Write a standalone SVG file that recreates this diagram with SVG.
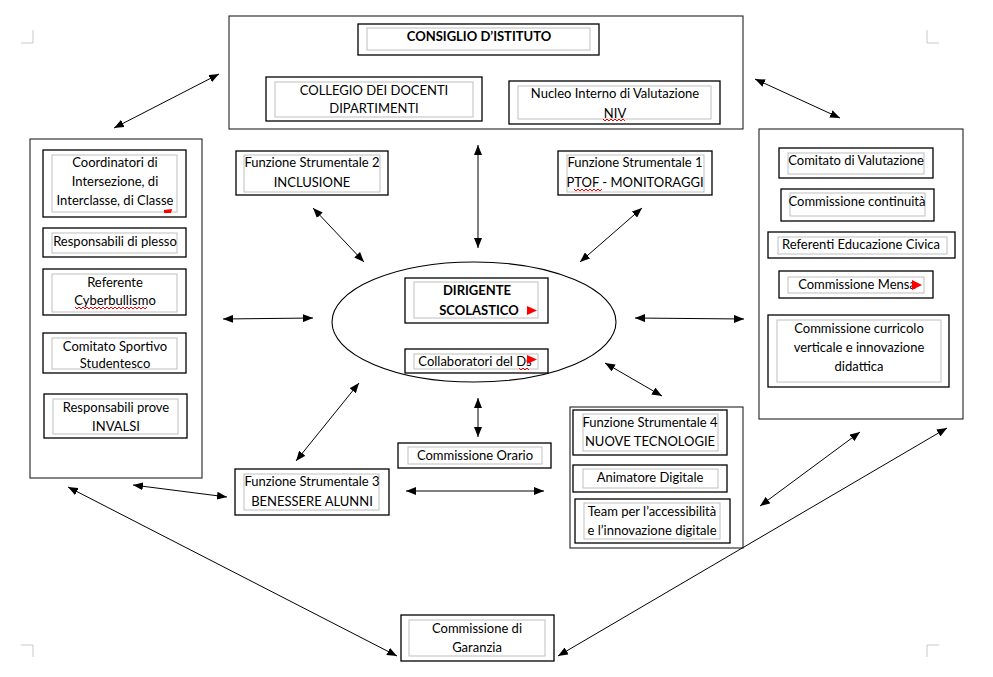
<svg xmlns="http://www.w3.org/2000/svg" width="993" height="677" viewBox="0 0 993 677">
<defs>
<marker id="ah" viewBox="0 0 10 8" refX="10" refY="4" markerWidth="10" markerHeight="8" markerUnits="userSpaceOnUse" orient="auto-start-reverse">
<path d="M0,0 L10,4 L0,8 Z" fill="#000"/>
</marker>
<style>
.o{fill:#fff;stroke:#000;stroke-width:1.3}
.i{fill:none;stroke:#bfbfbf;stroke-width:1}
.g{fill:none;stroke:#222;stroke-width:1.1}
.t{font-family:Lato,"Noto Sans",sans-serif;font-size:13px;fill:#000;text-anchor:middle}
.b{font-weight:bold}
.c{stroke:#000;stroke-width:1;fill:none;marker-start:url(#ah);marker-end:url(#ah)}
.cm{stroke:#c8c8c8;stroke-width:1;fill:none}
.sq{stroke:#e00;stroke-width:1;fill:none}
.rt{fill:#f00}
</style>
</defs>
<rect width="993" height="677" fill="#fff"/>
<g id="cornermarks">
<path class="cm" d="M33,30 V43 H21"/>
<path class="cm" d="M927,30 V43 H939"/>
<path class="cm" d="M21,645 H33 V657"/>
<path class="cm" d="M939,645 H927 V657"/>
</g>
<g id="top-group">
<rect class="g" x="229" y="16" width="514" height="113"/>
<g id="consiglio">
<rect class="o" x="358" y="24" width="241" height="31"/>
<rect class="i" x="367" y="28" width="223" height="22"/>
<text class="t b" x="479" y="41">CONSIGLIO D’ISTITUTO</text>
</g>
<g id="collegio">
<rect class="o" x="266" y="77" width="216" height="44"/>
<rect class="i" x="275" y="82" width="198" height="35"/>
<text class="t" x="374" y="95">COLLEGIO DEI DOCENTI</text>
<text class="t" x="374" y="113">DIPARTIMENTI</text>
</g>
<g id="niv">
<rect class="o" x="509" y="81" width="211" height="43"/>
<rect class="i" x="518" y="86" width="193" height="33"/>
<text class="t" x="615" y="98">Nucleo Interno di Valutazione</text>
<text class="t" x="615" y="118">NIV</text>
<path class="sq" d="M603,119 l2,2 2,-2 2,2 2,-2 2,2 2,-2 2,2 2,-2 2,2 2,-2 2,2"/>
</g>
</g>
<g id="left-group">
<rect class="g" x="30" y="139" width="172" height="339"/>
<g id="coordinatori">
<rect class="o" x="43" y="150" width="143" height="67"/>
<rect class="i" x="52" y="155" width="125" height="57"/>
<text class="t" x="115" y="167">Coordinatori di</text>
<text class="t" x="115" y="186">Intersezione, di</text>
<text class="t" x="115" y="205">Interclasse, di Classe</text>
<path class="rt" d="M164,210 L172,209 L171,213 L164,213 Z"/>
</g>
<g id="plesso">
<rect class="o" x="43" y="228" width="143" height="29"/>
<rect class="i" x="52" y="233" width="125" height="20"/>
<text class="t" x="115" y="246">Responsabili di plesso</text>
</g>
<g id="cyber">
<rect class="o" x="43" y="269" width="143" height="46"/>
<rect class="i" x="52" y="274" width="125" height="38"/>
<text class="t" x="115" y="287">Referente</text>
<text class="t" x="115" y="305">Cyberbullismo</text>
<path class="sq" d="M75,307 l2,2 2,-2 2,2 2,-2 2,2 2,-2 2,2 2,-2 2,2 2,-2 2,2 2,-2 2,2 2,-2 2,2 2,-2 2,2 2,-2 2,2 2,-2 2,2 2,-2 2,2 2,-2 2,2 2,-2 2,2 2,-2 2,2 2,-2 2,2 2,-2 2,2 2,-2 2,2 2,-2"/>
</g>
<g id="sportivo">
<rect class="o" x="43" y="333" width="143" height="40"/>
<rect class="i" x="52" y="338" width="125" height="31"/>
<text class="t" x="115" y="351">Comitato Sportivo</text>
<text class="t" x="115" y="368">Studentesco</text>
</g>
<g id="invalsi">
<rect class="o" x="44" y="394" width="143" height="44"/>
<rect class="i" x="53" y="399" width="125" height="35"/>
<text class="t" x="116" y="412">Responsabili prove</text>
<text class="t" x="116" y="431">INVALSI</text>
</g>
</g>
<g id="right-group">
<rect class="g" x="759" y="129" width="204" height="290"/>
<g id="valutazione">
<rect class="o" x="779" y="148" width="154" height="30"/>
<rect class="i" x="788" y="153" width="136" height="21"/>
<text class="t" x="856" y="165">Comitato di Valutazione</text>
</g>
<g id="continuita">
<rect class="o" x="781" y="189" width="153" height="32"/>
<rect class="i" x="790" y="193" width="135" height="23"/>
<text class="t" x="857" y="206">Commissione continuità</text>
</g>
<g id="civica">
<rect class="o" x="768" y="232" width="187" height="26"/>
<rect class="i" x="778" y="237" width="169" height="17"/>
<text class="t" x="861" y="249">Referenti Educazione Civica</text>
</g>
<g id="mensa">
<rect class="o" x="779" y="271" width="154" height="27"/>
<rect class="i" x="788" y="277" width="136" height="16"/>
<text class="t" x="857" y="289">Commissione Mensa</text>
<path class="rt" d="M912,280 L922,285 L912,290 Z"/>
</g>
<g id="curricolo">
<rect class="o" x="768" y="315" width="181" height="72"/>
<rect class="i" x="777" y="320" width="164" height="62"/>
<text class="t" x="859" y="333">Commissione curricolo</text>
<text class="t" x="859" y="352">verticale e innovazione</text>
<text class="t" x="859" y="371">didattica</text>
</g>
</g>
<g id="fs2">
<rect class="o" x="236" y="151" width="152" height="44"/>
<rect class="i" x="244" y="155" width="136" height="37"/>
<text class="t" x="312" y="167">Funzione Strumentale 2</text>
<text class="t" x="312" y="187">INCLUSIONE</text>
</g>
<g id="fs1">
<rect class="o" x="558" y="151" width="154" height="44"/>
<rect class="i" x="567" y="155" width="137" height="37"/>
<text class="t" x="635" y="167">Funzione Strumentale 1</text>
<text class="t" x="635" y="187">PTOF - MONITORAGGI</text>
<path class="sq" d="M574,189 l2,2 2,-2 2,2 2,-2 2,2 2,-2 2,2 2,-2 2,2 2,-2 2,2 2,-2 2,2 2,-2"/>
</g>
<g id="dirigente-group">
<ellipse cx="474" cy="322" rx="142" ry="60" fill="none" stroke="#000" stroke-width="1.1"/>
<g id="dirigente">
<rect class="o" x="405" y="278" width="143" height="45"/>
<rect class="i" x="414" y="282" width="124" height="36"/>
<text class="t b" x="477" y="295">DIRIGENTE</text>
<text class="t b" x="479" y="315">SCOLASTICO</text>
<path class="rt" d="M527,306 L537,310.5 L527,315 Z"/>
</g>
<g id="collaboratori">
<rect class="o" x="405" y="349" width="143" height="24"/>
<rect class="i" x="414" y="354" width="124" height="15"/>
<text class="t" x="475" y="366">Collaboratori del Ds</text>
<path class="sq" d="M519,368 l2,2 2,-2 2,2 2,-2 2,2"/>
<path class="rt" d="M527,355 L537,359.5 L527,364 Z"/>
</g>
</g>
<g id="orario">
<rect class="o" x="398" y="443" width="153" height="25"/>
<rect class="i" x="408" y="447" width="134" height="17"/>
<text class="t" x="475" y="460">Commissione Orario</text>
</g>
<g id="fs3">
<rect class="o" x="235" y="469" width="154" height="46"/>
<rect class="i" x="244" y="474" width="135" height="36"/>
<text class="t" x="312" y="486">Funzione Strumentale 3</text>
<text class="t" x="312" y="506">BENESSERE ALUNNI</text>
</g>
<g id="fs4-group">
<rect class="g" x="570" y="407" width="173" height="141"/>
<g id="fs4">
<rect class="o" x="573" y="410" width="154" height="45"/>
<rect class="i" x="583" y="414" width="135" height="37"/>
<text class="t" x="650" y="427">Funzione Strumentale 4</text>
<text class="t" x="650" y="446">NUOVE TECNOLOGIE</text>
</g>
<g id="animatore">
<rect class="o" x="573" y="465" width="154" height="27"/>
<rect class="i" x="583" y="469" width="135" height="19"/>
<text class="t" x="650" y="482">Animatore Digitale</text>
</g>
<g id="team">
<rect class="o" x="575" y="499" width="155" height="44"/>
<rect class="i" x="584" y="503" width="136" height="36"/>
<text class="t" x="652" y="516">Team per l’accessibilità</text>
<text class="t" x="652" y="535">e l’innovazione digitale</text>
</g>
</g>
<g id="garanzia">
<rect class="o" x="401" y="615" width="153" height="46"/>
<rect class="i" x="409" y="620" width="136" height="36"/>
<text class="t" x="477" y="633">Commissione di</text>
<text class="t" x="477" y="652">Garanzia</text>
</g>
<g id="connectors">
<line class="c" x1="114" y1="128" x2="219" y2="74"/>
<line class="c" x1="755" y1="79" x2="840" y2="118"/>
<line class="c" x1="478" y1="145" x2="478" y2="248"/>
<line class="c" x1="313" y1="208" x2="364" y2="262"/>
<line class="c" x1="642" y1="208" x2="580" y2="262"/>
<line class="c" x1="223" y1="319" x2="313" y2="318"/>
<line class="c" x1="635" y1="318" x2="744" y2="319"/>
<line class="c" x1="605" y1="363" x2="662" y2="396"/>
<line class="c" x1="359" y1="383" x2="296" y2="461"/>
<line class="c" x1="478" y1="398" x2="478" y2="437"/>
<line class="c" x1="406" y1="491" x2="544" y2="491"/>
<line class="c" x1="133" y1="485" x2="227" y2="497"/>
<line class="c" x1="860" y1="432" x2="760" y2="506"/>
<line class="c" x1="68" y1="487" x2="397" y2="656"/>
<line class="c" x1="947" y1="428" x2="558" y2="656"/>
</g>
</svg>
